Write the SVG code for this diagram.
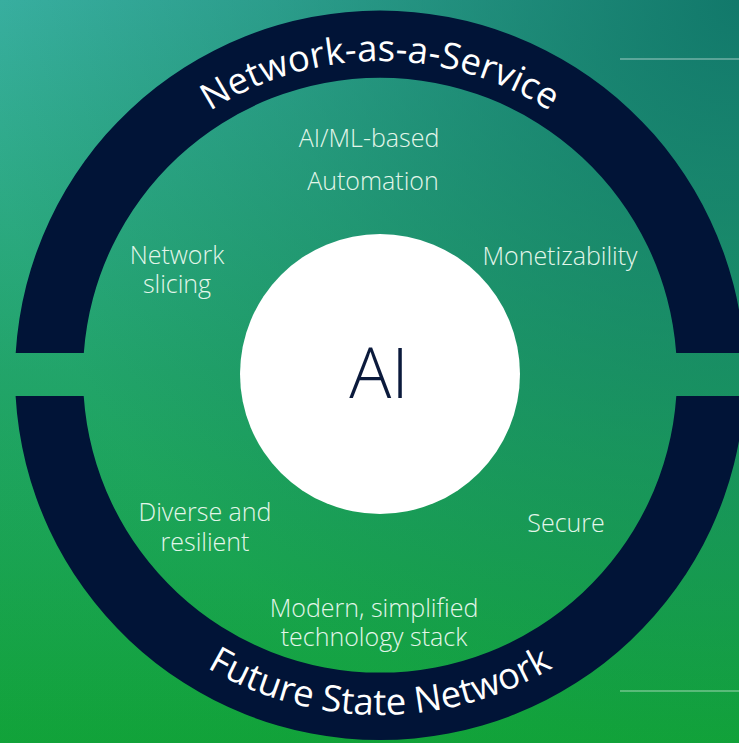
<svg xmlns="http://www.w3.org/2000/svg" xmlns:xlink="http://www.w3.org/1999/xlink" width="739" height="743" viewBox="0 0 739 743">
  <defs>
    <linearGradient id="bg" x1="0" y1="0" x2="0" y2="1">
      <stop offset="0" stop-color="#3db5a8"/>
      <stop offset="0.5" stop-color="#24a96c"/>
      <stop offset="1" stop-color="#12a737"/>
    </linearGradient>
    <radialGradient id="shade" cx="739" cy="0" r="760" gradientUnits="userSpaceOnUse">
      <stop offset="0" stop-color="#0a6e60" stop-opacity="0.85"/>
      <stop offset="0.6" stop-color="#0a6e55" stop-opacity="0.35"/>
      <stop offset="1" stop-color="#0a6e50" stop-opacity="0.08"/>
    </radialGradient>
    <path id="topArc" d="M 66,375 A 314 314 0 0 1 694,375"/>
    <path id="botArc" d="M 40,375 A 340 340 0 0 0 720,375"/>
    <style>
      .ring { fill: #011437; }
      .lbl { font-family: "Open Sans", "Liberation Sans", sans-serif; font-weight: 300; font-size: 25px; fill: #e3f6ea; text-anchor: middle; }
      .arcTxt { font-family: "Open Sans", "Liberation Sans", sans-serif; font-weight: 400; font-size: 36.5px; fill: #ffffff; }
      .rule { stroke: #ffffff; stroke-opacity: 0.4; stroke-width: 1.5; }
    </style>
  </defs>

  <g id="background">
    <rect x="0" y="0" width="739" height="743" fill="url(#bg)"/>
    <rect x="0" y="0" width="739" height="743" fill="url(#shade)"/>
    <line class="rule" x1="620" y1="59" x2="739" y2="59"/>
    <line class="rule" x1="620" y1="691" x2="739" y2="691"/>
  </g>

  <g id="ring-top">
    <path class="ring" d="M 15.7,353 A 365 365 0 0 1 744.3,353 L 676.2,353 A 297 297 0 0 0 83.8,353 Z"/>
    <text class="arcTxt"><textPath href="#topArc" xlink:href="#topArc" startOffset="50%" text-anchor="middle">Network-as-a-Service</textPath></text>
  </g>

  <g id="ring-bottom">
    <path class="ring" d="M 15.6,396 A 365 365 0 0 0 744.4,396 L 676.3,396 A 297 297 0 0 1 83.7,396 Z"/>
    <text class="arcTxt"><textPath href="#botArc" xlink:href="#botArc" startOffset="50%" text-anchor="middle">Future State Network</textPath></text>
  </g>

  <g id="ai-core">
    <circle cx="380" cy="374" r="140" fill="#ffffff"/>
    <text x="379" y="398" font-family="'Open Sans', 'Liberation Sans', sans-serif" font-weight="300" font-size="70" fill="#0b1a3c" text-anchor="middle">AI</text>
  </g>

  <g id="label-automation">
    <text class="lbl" x="369" y="147">AI/ML-based</text>
    <text class="lbl" x="373" y="190">Automation</text>
  </g>
  <g id="label-slicing">
    <text class="lbl"><tspan x="177" y="264">Network</tspan><tspan x="177" y="293">slicing</tspan></text>
  </g>
  <g id="label-monetizability">
    <text class="lbl" x="560" y="265">Monetizability</text>
  </g>
  <g id="label-diverse">
    <text class="lbl"><tspan x="205" y="521">Diverse and</tspan><tspan x="205" y="551">resilient</tspan></text>
  </g>
  <g id="label-secure">
    <text class="lbl" x="566" y="532">Secure</text>
  </g>
  <g id="label-modern">
    <text class="lbl"><tspan x="374" y="617">Modern, simplified</tspan><tspan x="374" y="646">technology stack</tspan></text>
  </g>
</svg>
